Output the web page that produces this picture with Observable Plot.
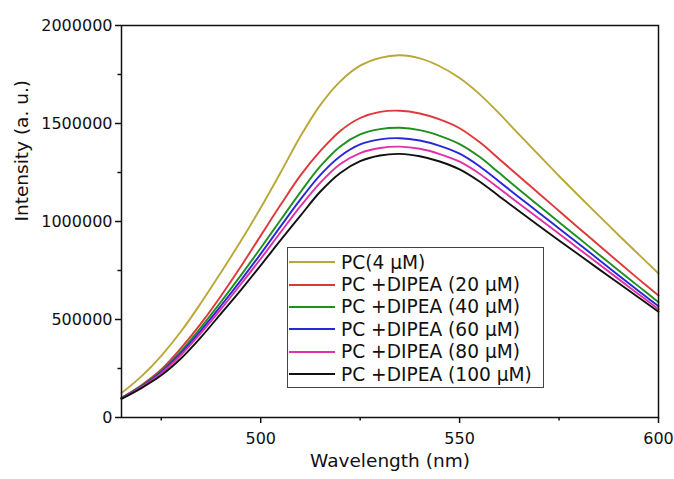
<!DOCTYPE html>
<html>
<head>
<meta charset="utf-8">
<script src="https://cdn.jsdelivr.net/npm/d3@7"></script>
<script src="https://cdn.jsdelivr.net/npm/@observablehq/plot@0.6"></script>
<style>
  html, body { margin: 0; padding: 0; background: white; }
  #wrap { position: relative; width: 674px; height: 479px; font-family: 'DejaVu Sans', sans-serif; }
  #legend { position: absolute; left: 287px; top: 247px; width: 257px; height: 141px; box-sizing: border-box;
            border: 1.5px solid #444; background: white; padding-top: 3px; }
  .row { display: flex; align-items: center; height: 22.4px; font-size: 18.6px; color: #111; white-space: nowrap; }
  .row svg { margin-left: 1px; margin-right: 6px; flex: none; }
</style>
</head>
<body>
<div id="wrap"><div id="legend"></div></div>
<script>
const wavelengths = [465,470,475,480,485,490,495,500,505,510,515,520,525,530,535,540,545,550,555,560,565,570,575,580,585,590,595,600];

const pc4      = [125000,210000,315000,440000,585000,740000,900000,1070000,1250000,1435000,1595000,1715000,1795000,1835000,1848000,1832000,1792000,1732000,1650000,1550000,1443000,1337000,1232000,1130000,1030000,930000,832000,735000];
const dipea20  = [100000,165000,245000,355000,480000,620000,770000,928000,1085000,1235000,1360000,1462000,1528000,1559000,1565000,1551000,1521000,1476000,1405000,1318000,1230000,1142000,1054000,966000,879000,792000,706000,622000];
const dipea40  = [100000,162000,238000,340000,460000,590000,725000,865000,1008000,1150000,1282000,1383000,1444000,1471000,1478000,1466000,1437000,1395000,1330000,1247000,1162000,1079000,996000,914000,832000,750000,669000,588000];
const dipea60  = [98000,158000,232000,330000,445000,570000,700000,835000,975000,1113000,1238000,1333000,1393000,1419000,1425000,1413000,1386000,1346000,1282000,1203000,1123000,1044000,964000,885000,805000,725000,646000,567000];
const dipea80  = [97000,155000,226000,320000,432000,553000,680000,810000,945000,1078000,1198000,1293000,1349000,1375000,1382000,1371000,1344000,1305000,1244000,1168000,1090000,1014000,937000,860000,783000,706000,629000,552000];
const dipea100 = [95000,150000,215000,302000,410000,530000,650000,776000,905000,1030000,1153000,1248000,1308000,1337000,1345000,1333000,1306000,1266000,1204000,1128000,1052000,977000,903000,830000,757000,685000,612000,540000];

const seriesNames = ["PC(4 µM)", "PC +DIPEA (20 µM)", "PC +DIPEA (40 µM)", "PC +DIPEA (60 µM)", "PC +DIPEA (80 µM)", "PC +DIPEA (100 µM)"];
const seriesColors = ["#b8a838", "#e0383a", "#1f8f1f", "#2828d8", "#e030a8", "#111111"];
const seriesValues = [pc4, dipea20, dipea40, dipea60, dipea80, dipea100];

const xMajor = [500, 550, 600];
const xMinor = [475, 525, 575];
const yMajor = [0, 500000, 1000000, 1500000, 2000000];
const yMinor = [250000, 750000, 1250000, 1750000];

const rows = [];
seriesValues.forEach((vals, i) => {
  vals.forEach((v, j) => rows.push({ name: seriesNames[i], wl: wavelengths[j], v }));
});

const chart = Plot.plot({
  width: 674, height: 479,
  marginLeft: 121, marginRight: 16, marginTop: 25, marginBottom: 62,
  style: { fontFamily: "'DejaVu Sans', sans-serif", fontSize: "16px", color: "#111", background: "white" },
  x: { domain: [465, 600] },
  y: { domain: [0, 2000000] },
  color: { type: "ordinal", domain: seriesNames, range: seriesColors },
  marks: [
    Plot.axisX({ ticks: xMajor, tickSize: 6, tickPadding: 9, label: null, fontSize: 16, strokeWidth: 1.5 }),
    Plot.axisX({ ticks: xMinor, tickSize: 3.5, text: null, label: null, strokeWidth: 1.5 }),
    Plot.axisY({ ticks: yMajor, tickSize: 6, tickPadding: 3, tickFormat: d3.format("d"), label: null, fontSize: 16, strokeWidth: 1.5 }),
    Plot.axisY({ ticks: yMinor, tickSize: 3.5, text: null, label: null, strokeWidth: 1.5 }),
    Plot.lineY(rows, { x: "wl", y: "v", z: "name", stroke: "name", strokeWidth: 1.9, curve: "catmull-rom" }),
    Plot.frame({ stroke: "#111", strokeWidth: 1.5 }),
    Plot.text(["Intensity (a. u.)"], { frameAnchor: "left", dx: -99, rotate: -90, fontSize: 18.5 }),
    Plot.text(["Wavelength (nm)"], { frameAnchor: "bottom", dy: 49, fontSize: 18.5 })
  ]
});

const wrap = document.getElementById("wrap");
wrap.insertBefore(chart, wrap.firstChild);

const legend = document.getElementById("legend");
seriesNames.forEach((name, i) => {
  const row = document.createElement("div");
  row.className = "row";
  row.innerHTML = `<svg width="46" height="4"><line x1="0" y1="2" x2="46" y2="2" stroke="${seriesColors[i]}" stroke-width="2"/></svg><span>${name}</span>`;
  legend.appendChild(row);
});
</script>
</body>
</html>
